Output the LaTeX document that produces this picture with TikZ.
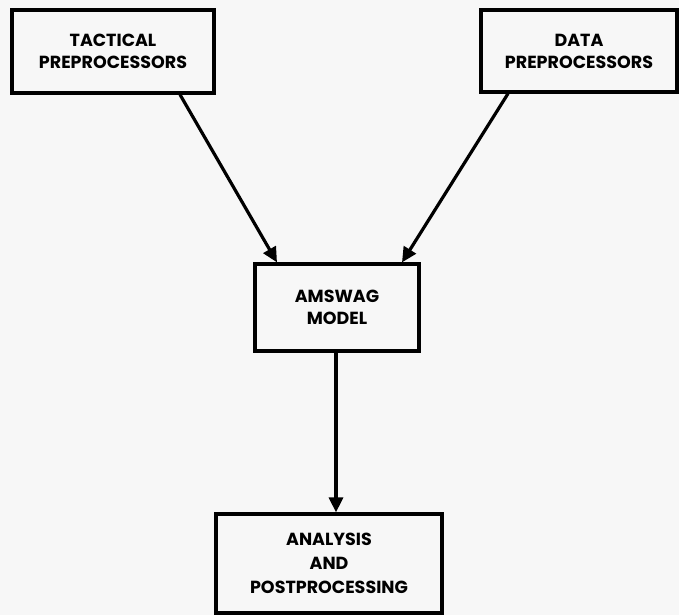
\documentclass[tikz,border=0pt]{standalone}
\usepackage{fontspec}
\setmainfont{Poppins}
\usetikzlibrary{arrows.meta}

\begin{document}
\begin{tikzpicture}[x=1pt, y=-1pt,
  block/.style={draw, line width=3.2pt, align=center, inner sep=0pt,
    font=\fontsize{17.5}{22}\selectfont\bfseries,
    execute at begin node={\vspace*{8pt}}},
  flow/.style={line width=3.2pt, -{Triangle[length=15pt, width=14pt]}}]
\useasboundingbox[fill=gray!6] (0, 0) rectangle (679, 615);
\node [block, minimum width=202pt, minimum height=83pt] (tac) at (113, 51.5) {TACTICAL\\PREPROCESSORS};
\node [block, minimum width=196pt, minimum height=82pt] (data) at (579, 51) {DATA\\PREPROCESSORS};
\node [block, minimum width=164pt, minimum height=87pt] (model) at (337, 307.5) {AMSWAG\\MODEL};
\node [block, minimum width=226pt, minimum height=99pt, font=\fontsize{17.5}{24}\selectfont\bfseries] (post) at (329, 563.5) {ANALYSIS\\AND\\POSTPROCESSING};
\draw [flow] ([xshift=67pt]tac.south) -- ([xshift=-60pt]model.north);
\draw [flow] ([xshift=-71pt]data.south) -- ([xshift=65pt]model.north);
\draw [flow] (model.south -| 336, 0) -- (post.north -| 336, 0);
\end{tikzpicture}
\end{document}
